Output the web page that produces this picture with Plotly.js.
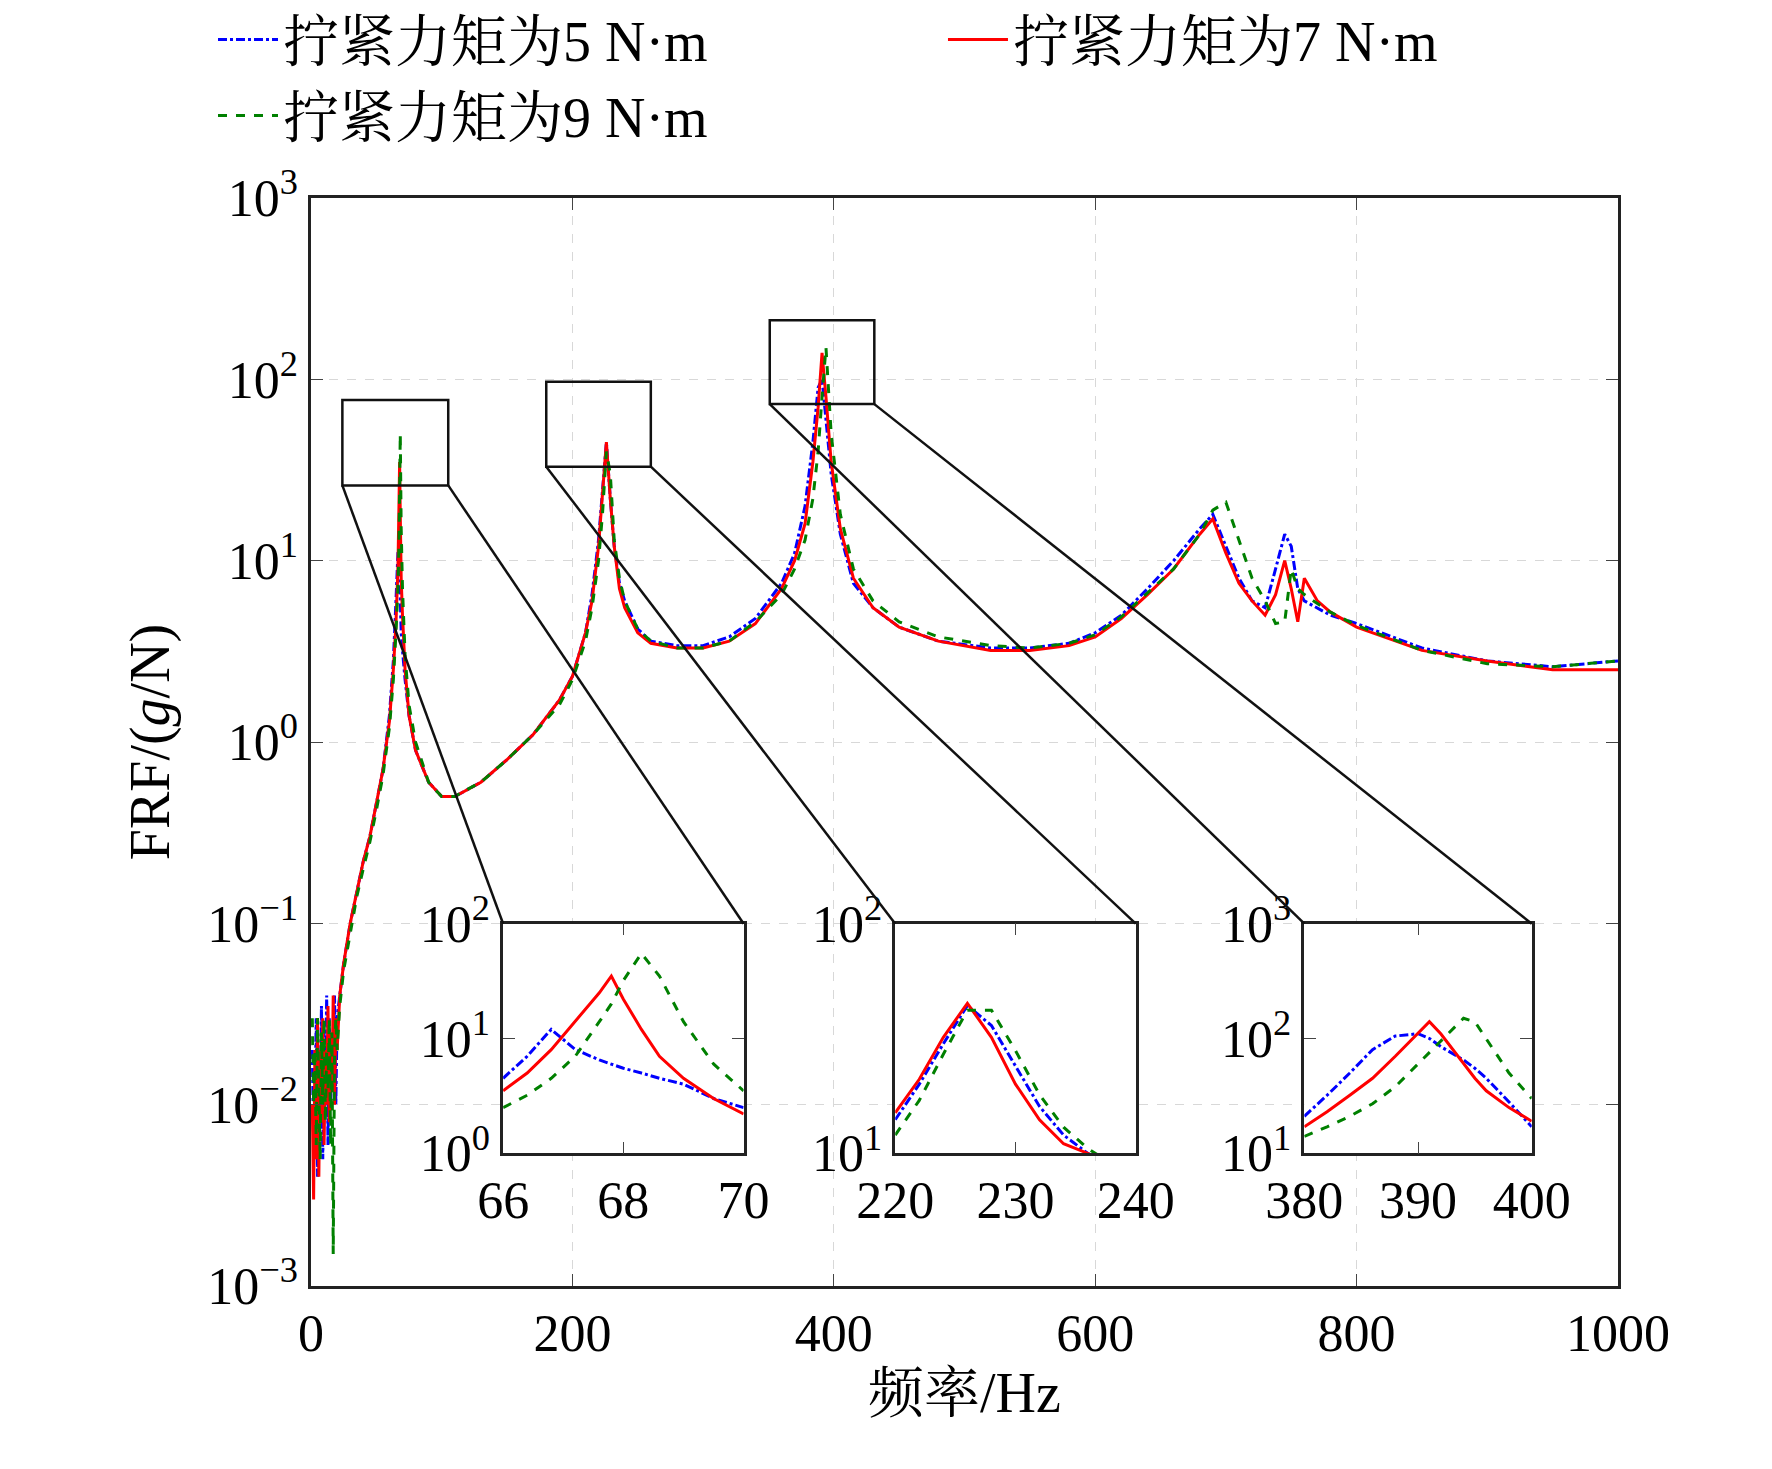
<!DOCTYPE html>
<html>
<head>
<meta charset="utf-8">
<script src="https://cdn.plot.ly/plotly-3.0.1.min.js"></script>
<style>body{margin:0;background:#fff}#plot{width:1772px;height:1469px}</style>
</head>
<body>
<div id="plot"></div>
<script>
// series names
var names = ["拧紧力矩为5 N·m", "拧紧力矩为7 N·m", "拧紧力矩为9 N·m"];

// main spectrum (Hz)
var freq = [1,2,3,4,5,6,7,8,9,10,11,12,13,14,15,16,17,18,19,20,
  22,25,30,35,40,45,50,55,60,63,65,
  66.5,67.3,67.8,68.3,69,70,72,75,80,90,
  100,110,120,130,150,170,190,200,210,215,
  220,223,226,229,232,236,240,250,260,280,
  300,320,340,360,370,378,384,388,391,394,
  398,405,415,430,450,480,520,550,580,600,
  620,640,660,680,690,700,710,720,730,738,
  745,750,755,760,770,780,800,850,900,950,1000];

var frf5 = [0.02,0.006,0.01,0.03,0.004,0.02,0.01,0.035,0.005,0.025,0.012,0.04,0.006,0.03,0.01,0.02,0.015,0.04,0.01,0.03,
  0.04,0.06,0.1,0.15,0.22,0.3,0.45,0.7,1.4,2.8,6,
  11,12,8,6,4,3.2,2.2,1.4,0.9,0.6,
  0.5,0.5,0.55,0.6,0.8,1.1,1.7,2.3,4,6.5,
  13,24,45,22,12,7.5,6,4.2,3.6,3.4,
  3.4,3.8,4.8,7.5,11,20,45,90,100,60,
  30,14,7.5,5.5,4.3,3.6,3.3,3.3,3.5,4,
  5,7,10,15,18,12,8,6,5.5,9,
  14,12,7,6,5.5,5,4.5,3.3,2.8,2.6,2.8];

var frf7 = [0.01,0.003,0.02,0.005,0.03,0.004,0.02,0.008,0.03,0.006,0.02,0.01,0.035,0.008,0.025,0.012,0.04,0.01,0.03,0.02,
  0.04,0.06,0.1,0.15,0.22,0.3,0.45,0.7,1.3,2.5,4.5,
  9,20,35,18,8,5,2.5,1.4,0.9,0.6,
  0.5,0.5,0.55,0.6,0.8,1.1,1.7,2.3,4,6,
  12,22,45,22,12,7,5.5,4,3.5,3.3,
  3.3,3.6,4.5,7,10,16,35,70,140,80,
  35,15,8,5.5,4.3,3.6,3.2,3.2,3.4,3.8,
  4.8,6.5,9,14,17,11,7.5,6,5,6.5,
  10,7,4.6,8,6,5.2,4.3,3.2,2.8,2.5,2.5];

var frf9 = [0.03,0.01,0.02,0.006,0.03,0.015,0.005,0.025,0.01,0.03,0.008,0.02,0.012,0.03,0.006,0.025,0.0015,0.02,0.03,0.02,
  0.035,0.055,0.09,0.14,0.2,0.28,0.42,0.65,1.2,2.2,4,
  7,12,25,50,15,7,3,1.6,1,0.6,
  0.5,0.5,0.55,0.6,0.8,1.1,1.6,2.2,3.6,5.5,
  10,18,40,30,13,8,6,4.2,3.6,3.3,
  3.3,3.6,4.6,6.5,9,13,22,40,80,150,
  50,18,9,6,4.6,3.8,3.4,3.3,3.5,3.9,
  4.9,6.6,9,14,19,21,13,8,6,4.5,
  4.6,9,7,6.5,5.8,5.2,4.4,3.2,2.7,2.6,2.8];

// zoomed views
var zf1 = [66,66.4,66.8,67.2,67.6,67.8,68,68.3,68.6,69,69.5,70];
var z1_5 = [4.5,7,12,8,6.5,6,5.5,5,4.5,4,3,2.5];
var z1_7 = [3.5,5,8,14,25,35,22,12,7,4.5,3,2.2];
var z1_9 = [2.5,3.2,4.5,7,14,20,32,55,35,14,6,3.5];

var zf2 = [220,222,224,226,228,230,232,234,236,238,240];
var z2_5 = [14,20,30,44,36,24,16,12,10,9,8.5];
var z2_7 = [15,21,32,45,32,20,14,11,10,9,8];
var z2_9 = [12,17,27,42,42,28,18,13,10.5,9,8];

var zf3 = [380,382,384,386,388,390,391,392,394,395,396,398,400];
var z3_5 = [21,32,50,80,105,110,100,85,65,55,45,28,17];
var z3_7 = [17,23,32,45,70,110,140,110,60,45,35,25,19];
var z3_9 = [14,17,21,27,38,60,75,95,150,140,100,50,30];

var colors = ["#0000ff", "#ff0000", "#008000"];
var dashes = ["dashdot", "solid", "dash"];
var FONT = "Liberation Serif, Times New Roman, Noto Serif CJK SC, Noto Sans CJK SC";

function mk(x, y, i, xa, ya, show) {
  return {
    x: x, y: y, type: "scatter", mode: "lines", name: names[i],
    xaxis: xa, yaxis: ya, showlegend: show,
    line: { color: colors[i], dash: dashes[i], width: 3 },
  };
}

var data = [
  mk(freq, frf5, 0, "x", "y", true),
  mk(freq, frf7, 1, "x", "y", true),
  mk(freq, frf9, 2, "x", "y", true),
  mk(zf1, z1_5, 0, "x2", "y2", false),
  mk(zf1, z1_7, 1, "x2", "y2", false),
  mk(zf1, z1_9, 2, "x2", "y2", false),
  mk(zf2, z2_5, 0, "x3", "y3", false),
  mk(zf2, z2_7, 1, "x3", "y3", false),
  mk(zf2, z2_9, 2, "x3", "y3", false),
  mk(zf3, z3_5, 0, "x4", "y4", false),
  mk(zf3, z3_7, 1, "x4", "y4", false),
  mk(zf3, z3_9, 2, "x4", "y4", false),
];

function pow(e) { return "10<sup>" + String(e).replace("-", "\u2212") + "</sup>"; }
function logAxis(lo, hi, dom, anchor, grid) {
  var v = [], t = [];
  for (var e = lo; e <= hi; e++) { v.push(Math.pow(10, e)); t.push(pow(e)); }
  return {
    type: "log", range: [lo, hi], domain: dom, anchor: anchor, automargin: false,
    tickvals: v, ticktext: t, ticks: "inside", ticklen: 12, mirror: "ticks",
    showline: true, linecolor: "#222", linewidth: 2.5, showgrid: grid,
    gridcolor: "#d8d8d8", griddash: "dash", zeroline: false,
    tickfont: { size: 52, family: FONT, color: "#000" },
  };
}
function linAxis(lo, hi, vals, dom, anchor, grid) {
  return {
    range: [lo, hi], domain: dom, anchor: anchor, tickvals: vals, automargin: false,
    ticks: "inside", ticklen: 12, mirror: "ticks", showline: true,
    linecolor: "#222", linewidth: 2.5, showgrid: grid, gridcolor: "#d8d8d8",
    griddash: "dash", zeroline: false,
    tickfont: { size: 52, family: FONT, color: "#000" },
  };
}

var in1 = [0.147, 0.331], in2 = [0.447, 0.631], in3 = [0.760, 0.934], inY = [0.122, 0.333];

// paper coordinates of a data point in the main axes
function px(f) { return f / 1000; }
function py(v) { return (Math.log10(v) + 3) / 6; }

var boxes = [
  { f: [24, 105], v: [26, 77], ins: in1 },
  { f: [180, 260], v: [33, 97], ins: in2 },
  { f: [351, 431], v: [73, 212], ins: in3 },
];
var shapes = [];
boxes.forEach(function (b) {
  var ln = { color: "#111", width: 2.5 };
  shapes.push({ type: "rect", xref: "paper", yref: "paper", x0: px(b.f[0]), x1: px(b.f[1]), y0: py(b.v[0]), y1: py(b.v[1]), line: ln });
  shapes.push({ type: "line", xref: "paper", yref: "paper", x0: px(b.f[0]), y0: py(b.v[0]), x1: b.ins[0], y1: inY[1], line: ln });
  shapes.push({ type: "line", xref: "paper", yref: "paper", x0: px(b.f[1]), y0: py(b.v[0]), x1: b.ins[1], y1: inY[1], line: ln });
});

var layout = {
  width: 1772, height: 1469,
  margin: { l: 311, r: 154, t: 198, b: 183, autoexpand: false },
  paper_bgcolor: "#fff", plot_bgcolor: "#fff",
  font: { family: FONT, color: "#000" },
  showlegend: true,
  legend: {
    orientation: "h", x: -0.075, y: 1.185, xanchor: "left", yanchor: "top",
    font: { size: 56, family: FONT }, entrywidth: 655, traceorder: "normal",
    bgcolor: "rgba(0,0,0,0)", itemwidth: 60,
  },
  xaxis: Object.assign(linAxis(0, 1000, [0, 200, 400, 600, 800, 1000], [0, 1], "y", true),
    { title: { text: "频率/Hz", font: { size: 56, family: FONT }, standoff: 10 } }),
  yaxis: Object.assign(logAxis(-3, 3, [0, 1], "x", true),
    { title: { text: "FRF/(<i>g</i>/N)", font: { size: 56, family: FONT }, standoff: 20 } }),
  xaxis2: linAxis(66, 70, [66, 68, 70], in1, "y2", false),
  yaxis2: logAxis(0, 2, inY, "x2", false),
  xaxis3: linAxis(220, 240, [220, 230, 240], in2, "y3", false),
  yaxis3: logAxis(1, 2, inY, "x3", false),
  xaxis4: linAxis(380, 400, [380, 390, 400], in3, "y4", false),
  yaxis4: logAxis(1, 3, inY, "x4", false),
  shapes: shapes,
};

Plotly.newPlot("plot", data, layout, { displayModeBar: false });
</script>
</body>
</html>
